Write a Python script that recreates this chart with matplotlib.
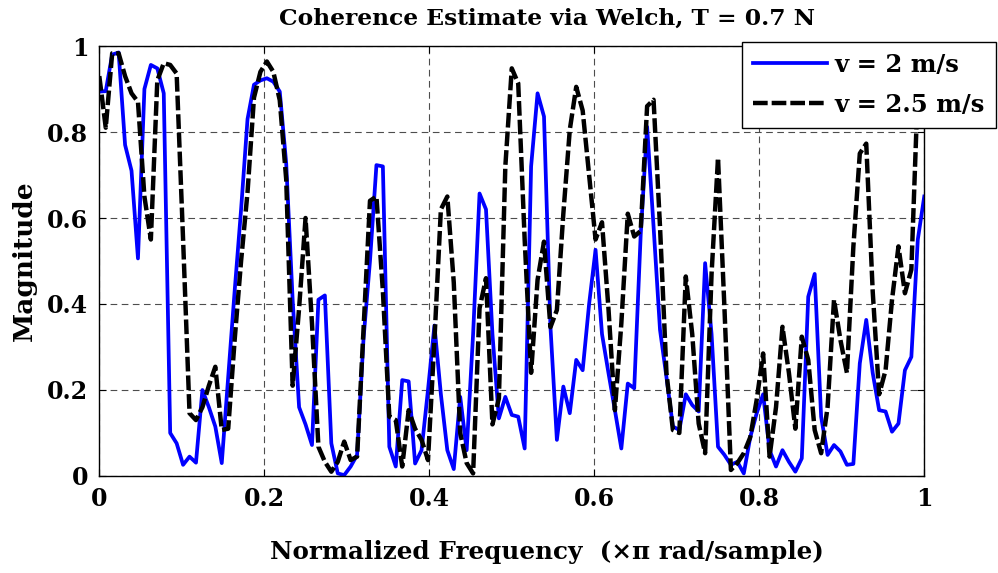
import numpy as np
import matplotlib
matplotlib.use("Agg")
import matplotlib.pyplot as plt

# coherence estimates, 129 frequency bins from 0 to 1 (x pi rad/sample)
n_bins = 129

coh_v2 = [
    0.894, 0.895, 0.98, 0.985, 0.77, 0.71, 0.506, 0.90, 0.956, 0.948,
    0.89, 0.10, 0.076, 0.026, 0.045, 0.031, 0.20, 0.16, 0.115, 0.03,
    0.23, 0.43, 0.62, 0.83, 0.91, 0.92, 0.925, 0.917, 0.894, 0.727,
    0.41, 0.16, 0.12, 0.072, 0.41, 0.42, 0.076, 0.006, 0.002, 0.022,
    0.049, 0.32, 0.50, 0.723, 0.72, 0.068, 0.022, 0.223, 0.22, 0.029,
    0.06, 0.20, 0.35, 0.19, 0.06, 0.016, 0.184, 0.06, 0.33, 0.657,
    0.62, 0.33, 0.134, 0.184, 0.142, 0.138, 0.064, 0.72, 0.89, 0.836,
    0.347, 0.084, 0.208, 0.146, 0.27, 0.246, 0.40, 0.526, 0.33, 0.24,
    0.153, 0.064, 0.215, 0.204, 0.56, 0.812, 0.58, 0.34, 0.23, 0.115,
    0.107, 0.19, 0.165, 0.15, 0.495, 0.33, 0.068, 0.049, 0.026, 0.033,
    0.006, 0.09, 0.146, 0.19, 0.06, 0.022, 0.06, 0.033, 0.01, 0.041,
    0.417, 0.47, 0.138, 0.049, 0.072, 0.057, 0.026, 0.028, 0.262, 0.363,
    0.24, 0.153, 0.15, 0.103, 0.122, 0.246, 0.277, 0.55, 0.65,
]

coh_v25 = [
    0.93, 0.81, 0.983, 0.983, 0.93, 0.89, 0.87, 0.65, 0.55, 0.92,
    0.96, 0.956, 0.936, 0.55, 0.146, 0.13, 0.16, 0.21, 0.254, 0.107,
    0.11, 0.316, 0.50, 0.66, 0.88, 0.94, 0.964, 0.94, 0.874, 0.69,
    0.21, 0.39, 0.60, 0.355, 0.068, 0.033, 0.01, 0.033, 0.08, 0.037,
    0.045, 0.34, 0.64, 0.65, 0.43, 0.138, 0.13, 0.022, 0.153, 0.11,
    0.084, 0.037, 0.316, 0.62, 0.65, 0.45, 0.10, 0.03, 0.006, 0.39,
    0.46, 0.12, 0.18, 0.72, 0.948, 0.913, 0.55, 0.24, 0.456, 0.545,
    0.346, 0.386, 0.61, 0.805, 0.905, 0.85, 0.70, 0.55, 0.59, 0.39,
    0.153, 0.355, 0.61, 0.557, 0.57, 0.86, 0.875, 0.58, 0.24, 0.107,
    0.10, 0.464, 0.33, 0.122, 0.053, 0.47, 0.74, 0.39, 0.014, 0.03,
    0.053, 0.09, 0.177, 0.285, 0.045, 0.16, 0.347, 0.24, 0.11, 0.324,
    0.27, 0.107, 0.053, 0.16, 0.41, 0.316, 0.24, 0.533, 0.75, 0.773,
    0.43, 0.19, 0.246, 0.41, 0.534, 0.425, 0.48, 0.90, 0.97,
]

labels = ["v = 2 m/s", "v = 2.5 m/s"]
ticks = [0, 0.2, 0.4, 0.6, 0.8, 1]
tick_labels = ["0", "0.2", "0.4", "0.6", "0.8", "1"]

freq = np.arange(n_bins) / (n_bins - 1)

plt.rcParams["font.family"] = "DejaVu Serif"
plt.rcParams["font.weight"] = "bold"

fig = plt.figure(figsize=(9.98, 5.73), dpi=100)
ax = fig.add_axes([0.0995, 0.1693, 0.8266, 0.7504])

ax.plot(freq, coh_v2, color="#0000ff", lw=2.7, label=labels[0])
ax.plot(freq, coh_v25, color="black", lw=3.2, ls=(0, (3.3, 0.9)),
        label=labels[1])

ax.set_xlim(0, 1)
ax.set_ylim(0, 1)
ax.set_xticks(ticks)
ax.set_xticklabels(tick_labels)
ax.set_yticks(ticks)
ax.set_yticklabels(tick_labels)

ax.grid(True, color="0.3", lw=0.8, ls=(0, (6, 4)))
ax.tick_params(direction="in", length=5, width=0.8, top=True, right=True,
               labelsize=17, pad=8)
for lab in ax.get_xticklabels() + ax.get_yticklabels():
    lab.set_fontweight("bold")
for sp in ax.spines.values():
    sp.set_linewidth(1.0)

# MATLAB put the title and xlabel a little right of centre
ax.set_title("Coherence Estimate via Welch, T = 0.7 N", fontsize=16.8,
             fontweight="bold", pad=15, x=0.543)
ax.set_xlabel("Normalized Frequency  (\u00d7\u03c0 rad/sample)", fontsize=17.7,
              fontweight="bold", labelpad=21)
ax.xaxis.label.set_x(0.543)
ax.set_ylabel("Magnitude", fontsize=19, fontweight="bold", labelpad=7)

leg = ax.legend(loc="upper left", bbox_to_anchor=(0.7435, 0.927),
                bbox_transform=fig.transFigure,
                prop={"weight": "bold", "size": 17.5},
                frameon=True, fancybox=False, framealpha=1,
                edgecolor="black", handlelength=3.05, handletextpad=0.3,
                borderpad=0.45, labelspacing=0.65, borderaxespad=0)
leg.get_frame().set_linewidth(1.0)

fig.savefig("out.png", dpi=100)
